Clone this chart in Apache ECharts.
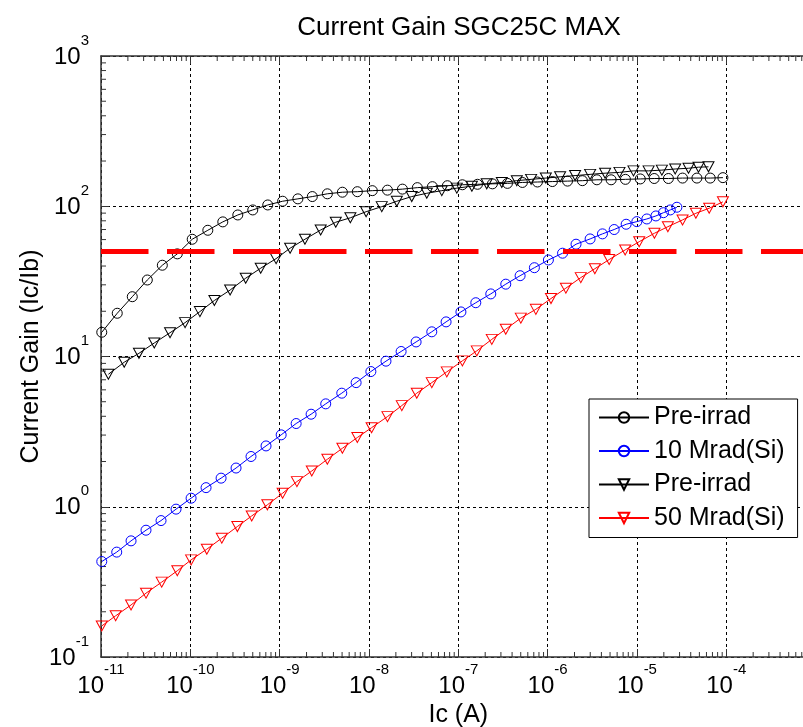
<!DOCTYPE html>
<html>
<head>
<meta charset="utf-8">
<script src="https://cdn.jsdelivr.net/npm/echarts@6/dist/echarts.min.js"></script>
<style>
  html, body { margin: 0; padding: 0; background: #fff; }
  #chart { width: 803px; height: 727px; }
</style>
</head>
<body>
<div id="chart"></div>
<script>
// Gummel-sweep current gain (Ic/Ib) versus collector current, before and after irradiation.

// Pre-irrad (circles)
const icPreA = [1.02e-11, 1.52e-11, 2.24e-11, 3.30e-11, 4.86e-11, 7.15e-11, 1.05e-10, 1.57e-10, 2.31e-10, 3.40e-10,
  5.00e-10, 7.36e-10, 1.08e-9, 1.60e-9, 2.32e-9, 3.42e-9, 5.04e-9, 7.41e-9, 1.09e-8, 1.61e-8,
  2.37e-8, 3.48e-8, 5.13e-8, 7.55e-8, 1.11e-7, 1.64e-7, 2.41e-7, 3.55e-7, 5.22e-7, 7.69e-7,
  1.13e-6, 1.67e-6, 2.45e-6, 3.56e-6, 5.14e-6, 7.43e-6, 1.09e-5, 1.56e-5, 2.25e-5, 3.24e-5,
  4.69e-5, 6.61e-5, 9.17e-5];
const gainPreA = [14.5, 19.4, 25.0, 32.3, 40.5, 48.2, 60.3, 69.2, 78.7, 87.5,
  94.5, 102, 108, 112, 116, 121, 124, 125, 127, 128,
  130, 133, 135, 137, 139, 140, 141, 142, 144, 145,
  146, 147, 148, 150, 150, 151, 152, 153, 153, 154,
  154, 154, 155];

// 10 Mrad(Si) (circles)
const ic10 = [1.02e-11, 1.50e-11, 2.17e-11, 3.19e-11, 4.70e-11, 6.92e-11, 1.02e-10, 1.50e-10, 2.21e-10, 3.25e-10,
  4.78e-10, 7.04e-10, 1.04e-9, 1.53e-9, 2.25e-9, 3.28e-9, 4.96e-9, 7.18e-9, 1.05e-8, 1.55e-8,
  2.29e-8, 3.37e-8, 5.05e-8, 7.30e-8, 1.07e-7, 1.57e-7, 2.31e-7, 3.40e-7, 4.92e-7, 7.11e-7,
  1.02e-6, 1.47e-6, 2.08e-6, 2.99e-6, 4.11e-6, 5.56e-6, 7.57e-6, 9.97e-6, 1.29e-5, 1.63e-5,
  1.98e-5, 2.36e-5, 2.80e-5];
const gain10 = [0.432, 0.499, 0.593, 0.698, 0.809, 0.964, 1.14, 1.34, 1.55, 1.81,
  2.16, 2.54, 3.01, 3.58, 4.13, 4.84, 5.70, 6.70, 7.94, 9.31,
  10.8, 12.5, 14.6, 17.0, 19.8, 22.8, 26.1, 30.3, 34.5, 39.0,
  43.9, 48.7, 55.9, 60.6, 65.5, 70.0, 75.9, 79.0, 82.3, 86.2,
  90.6, 94.5, 98.5];

// Pre-irrad (triangles)
const icPreB = [1.21e-11, 1.82e-11, 2.66e-11, 3.95e-11, 5.93e-11, 8.73e-11, 1.28e-10, 1.86e-10, 2.79e-10, 4.17e-10,
  6.14e-10, 9.12e-10, 1.31e-9, 1.92e-9, 2.88e-9, 4.25e-9, 6.19e-9, 9.29e-9, 1.39e-8, 2.05e-8,
  3.01e-8, 4.44e-8, 6.53e-8, 9.62e-8, 1.42e-7, 2.08e-7, 3.07e-7, 4.52e-7, 6.53e-7, 9.55e-7,
  1.38e-6, 2.03e-6, 2.99e-6, 4.40e-6, 6.37e-6, 9.14e-6, 1.35e-5, 1.90e-5, 2.68e-5, 3.78e-5,
  4.89e-5, 6.32e-5];
const gainPreB = [7.62, 9.16, 10.5, 12.3, 14.4, 16.8, 19.9, 23.6, 27.7, 33.2,
  38.7, 44.8, 52.6, 60.3, 69.5, 78.3, 83.8, 92.0, 99.4, 108,
  116, 122, 127, 132, 136, 141, 144, 148, 151, 154,
  157, 160, 163, 166, 168, 172, 172, 174, 177, 179,
  182, 183];

// 50 Mrad(Si) (triangles)
const ic50 = [1.02e-11, 1.46e-11, 2.17e-11, 3.19e-11, 4.78e-11, 7.15e-11, 1.02e-10, 1.53e-10, 2.25e-10, 3.36e-10,
  4.87e-10, 7.28e-10, 1.08e-9, 1.56e-9, 2.29e-9, 3.42e-9, 5.04e-9, 7.41e-9, 1.07e-8, 1.61e-8,
  2.33e-8, 3.43e-8, 5.05e-8, 7.43e-8, 1.11e-7, 1.61e-7, 2.37e-7, 3.40e-7, 5.01e-7, 7.38e-7,
  1.09e-6, 1.60e-6, 2.35e-6, 3.38e-6, 4.89e-6, 7.38e-6, 1.06e-5, 1.57e-5, 2.22e-5, 3.24e-5,
  4.57e-5, 6.44e-5, 9.17e-5];
const gain50 = [0.161, 0.188, 0.222, 0.266, 0.315, 0.375, 0.443, 0.522, 0.618, 0.738,
  0.869, 1.03, 1.23, 1.47, 1.73, 2.07, 2.45, 2.89, 3.36, 3.98,
  4.71, 5.70, 6.70, 7.90, 9.35, 10.9, 13.0, 15.2, 18.0, 20.6,
  24.3, 28.5, 33.5, 38.4, 44.2, 51.2, 58.1, 66.1, 73.1, 81.1,
  89.8, 97.0, 107];

// Minimum acceptable gain
const gainLimit = 50;

const legendLabels = ['Pre-irrad', '10 Mrad(Si)', 'Pre-irrad', '50 Mrad(Si)'];
const chartTitle = 'Current Gain SGC25C MAX';
const xAxisTitle = 'Ic (A)';
const yAxisTitle = 'Current Gain (Ic/Ib)';

// Decade exponents for the tick labels (the last x decade sits past the right edge, unlabelled)
const xExponents = [-11, -10, -9, -8, -7, -6, -5, -4, -3];
const xLabelledExponents = [-11, -10, -9, -8, -7, -6, -5, -4];
const yExponents = [-1, 0, 1, 2, 3];
const minorSteps = [2, 3, 4, 5, 6, 7, 8, 9];

const FONT = '"Liberation Sans", Arial, sans-serif';
const AXIS_COLOR = '#333';
const RED = '#ff0000';
const BLUE = '#0000ff';
const BLACK = '#000000';

const xMin = Math.pow(10, xExponents[0]);
const xMax = Math.pow(10, xExponents[xExponents.length - 1]);
const yMin = Math.pow(10, yExponents[0]);
const yMax = Math.pow(10, yExponents[yExponents.length - 1]);

function minorValues(exps) {
  const out = [];
  for (let i = 0; i < exps.length - 1; i++) {
    for (const m of minorSteps) out.push(m * Math.pow(10, exps[i]));
  }
  return out;
}
const xMinor = minorValues(xExponents);
const yMinor = minorValues(yExponents);

function powerLabel(v, allowed) {
  const e = Math.round(Math.log10(v));
  if (allowed && allowed.indexOf(e) < 0) return '';
  return '{b|10}{s|' + e + '}';
}
// base "10" sits at the bottom of a tall line, the exponent at its top
const labelRich = {
  b: { fontSize: 24, fontFamily: FONT, color: '#000', lineHeight: 36, verticalAlign: 'bottom' },
  s: { fontSize: 15, fontFamily: FONT, color: '#000', lineHeight: 12, verticalAlign: 'top' }
};

function pairs(xs, ys) { return xs.map((x, i) => [x, ys[i]]); }

function curve(name, xs, ys, color, marker) {
  const isTri = marker === 'triangle';
  return {
    name: name,
    type: 'line',
    data: pairs(xs, ys),
    symbol: isTri ? 'triangle' : 'circle',
    symbolSize: isTri ? [11, 10] : 10,
    symbolRotate: isTri ? 180 : 0,
    showSymbol: true,
    lineStyle: { color: color, width: 1 },
    itemStyle: { color: 'rgba(0,0,0,0)', borderColor: color, borderWidth: 1 },
    emphasis: { disabled: true },
    z: 3
  };
}

function tickSeg(x1, y1, x2, y2) {
  return { type: 'line', shape: { x1, y1, x2, y2 }, style: { stroke: AXIS_COLOR, lineWidth: 1 } };
}

const chart = echarts.init(document.getElementById('chart'), null, { renderer: 'canvas' });

const axisBase = {
  axisLine: { show: true, onZero: false, lineStyle: { color: AXIS_COLOR, width: 1.5 } },
  axisTick: { show: true, inside: true, length: 8, lineStyle: { color: AXIS_COLOR, width: 1 } },
  minorTick: { show: false },
  minorSplitLine: { show: false }
};

chart.setOption({
  animation: false,
  backgroundColor: '#fff',
  title: {
    text: chartTitle,
    left: 454,
    top: 10,
    textAlign: 'center',
    textStyle: { fontSize: 26, fontWeight: 'normal', fontFamily: FONT, color: '#000' }
  },
  grid: { left: 101, right: -12.6, top: 56, bottom: 70, containLabel: false, outerBoundsMode: 'none' },
  legend: {
    orient: 'vertical',
    left: 589,
    top: 399,
    padding: [6, 13, 7, 9],
    itemWidth: 50,
    itemHeight: 13,
    itemGap: 8.5,
    backgroundColor: '#fff',
    borderColor: '#000',
    borderWidth: 1,
    borderRadius: 0,
    selectedMode: false,
    formatter: n => n.trim(),
    textStyle: { fontSize: 25, fontFamily: FONT, color: '#000', lineHeight: 25 },
    data: legendLabels.map((l, i) => (i === 2 ? l + ' ' : l))
  },
  xAxis: [
    Object.assign({}, axisBase, {
      type: 'log', logBase: 10, min: xMin, max: xMax, splitNumber: 8, position: 'bottom',
      name: xAxisTitle, nameLocation: 'middle', nameGap: 46, nameMoveOverlap: false,
      nameTextStyle: { fontSize: 25, fontFamily: FONT, color: '#000' },
      axisLabel: { margin: 5, formatter: v => powerLabel(v, xLabelledExponents), rich: labelRich },
      splitLine: { show: true, lineStyle: { color: '#000', width: 1, type: [3, 3] } }
    }),
    Object.assign({}, axisBase, {
      type: 'log', logBase: 10, min: xMin, max: xMax, splitNumber: 8, position: 'top',
      axisLabel: { show: false }, splitLine: { show: false }
    })
  ],
  yAxis: [
    Object.assign({}, axisBase, {
      type: 'log', logBase: 10, min: yMin, max: yMax, splitNumber: 4, position: 'left',
      name: yAxisTitle, nameLocation: 'middle', nameGap: 57, nameRotate: 90, nameMoveOverlap: false,
      nameTextStyle: { fontSize: 25, fontFamily: FONT, color: '#000' },
      axisLabel: { margin: 12, padding: [0, 0, 10, 0], formatter: v => powerLabel(v, yExponents), rich: labelRich },
      splitLine: { show: true, lineStyle: { color: '#000', width: 1, type: [3, 3] } }
    }),
    Object.assign({}, axisBase, {
      type: 'log', logBase: 10, min: yMin, max: yMax, splitNumber: 4, position: 'right',
      axisLabel: { show: false }, splitLine: { show: false }
    })
  ],
  series: [
    curve(legendLabels[0], icPreA, gainPreA, BLACK, 'circle'),
    curve(legendLabels[1], ic10, gain10, BLUE, 'circle'),
    curve(legendLabels[2] + ' ', icPreB, gainPreB, BLACK, 'triangle'),
    curve(legendLabels[3], ic50, gain50, RED, 'triangle'),
    {
      // gain limit line
      type: 'line',
      data: [],
      silent: true,
      z: 2,
      markLine: {
        silent: true,
        symbol: 'none',
        label: { show: false },
        lineStyle: { color: RED, width: 5, type: [47.5, 18.5], cap: 'butt' },
        emphasis: { disabled: true },
        data: [{ yAxis: gainLimit }]
      }
    },
    {
      // minor ticks along bottom and top edges
      type: 'custom',
      silent: true,
      z: 1,
      data: xMinor.map(v => [v, yMin]),
      renderItem: (params, api) => {
        const v = api.value(0);
        const b = api.coord([v, yMin]);
        const t = api.coord([v, yMax]);
        return { type: 'group', children: [tickSeg(b[0], b[1], b[0], b[1] - 5), tickSeg(t[0], t[1], t[0], t[1] + 5)] };
      }
    },
    {
      // minor ticks along left and right edges
      type: 'custom',
      silent: true,
      z: 1,
      data: yMinor.map(v => [xMin, v]),
      renderItem: (params, api) => {
        const v = api.value(1);
        const l = api.coord([xMin, v]);
        const r = api.coord([xMax, v]);
        return { type: 'group', children: [tickSeg(l[0], l[1], l[0] + 5, l[1]), tickSeg(r[0], r[1], r[0] - 5, r[1])] };
      }
    }
  ]
});
</script>
</body>
</html>
